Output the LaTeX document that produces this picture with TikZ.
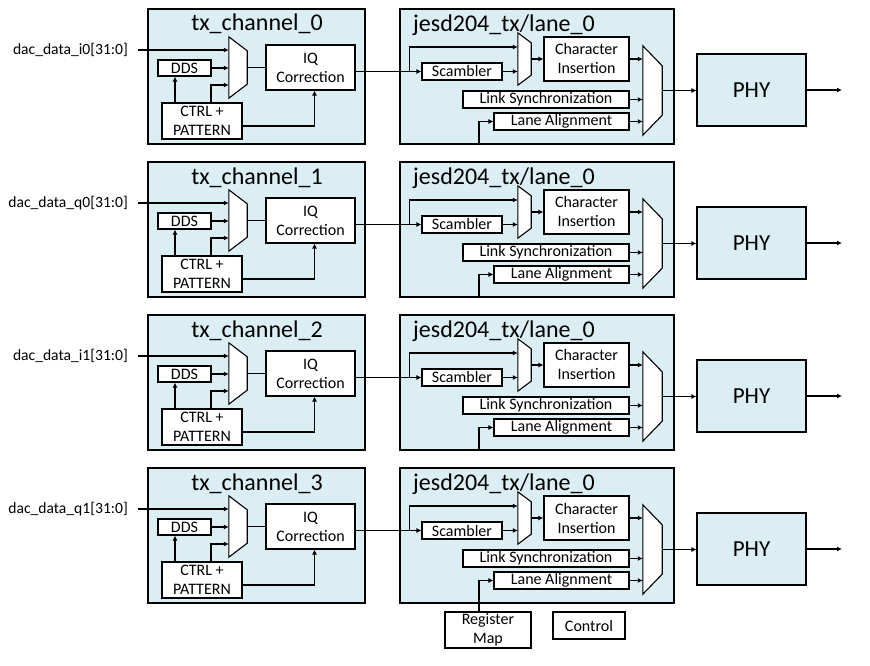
\documentclass[tikz,border=0pt]{standalone}
\usepackage{fontspec}
\setmainfont{Carlito}
\usetikzlibrary{arrows.meta,calc}
\definecolor{lb}{HTML}{DAEEF3}
\tikzset{
 blk/.style={draw, fill=white, line width=1.1pt, inner sep=0pt, align=center, font=\fontsize{16}{19}\selectfont},
 grp/.style={draw, fill=lb, line width=1.1pt, inner sep=0pt},
 muxbox/.style={inner sep=0pt},
 arr/.style={-{Latex[length=5pt,width=5pt]}, line width=1.1pt},
 wire/.style={line width=1.1pt},
 ttl/.style={font=\fontsize{24}{28}\selectfont, inner sep=0pt},
 lbl/.style={font=\fontsize{15.6}{19}\selectfont, inner sep=0pt},
}
\newcommand\muxshape[2]{\filldraw[wire, fill=white] (#1.north west) -- ([yshift=-#2pt]#1.north east) -- ([yshift=#2pt]#1.south east) -- (#1.south west) -- cycle;}
\begin{document}
\begin{tikzpicture}[x=1pt,y=-1pt]
\useasboundingbox (0,0) rectangle (870,666);
\foreach \i/\lab in {0/i0,1/q0,2/i1,3/q1}{
 \begin{scope}[shift={(0,153*\i)}]
 % tx_channel
 \node[grp, minimum width=217, minimum height=135] (tx\i) at (256.5,76.5) {};
 \node[ttl, anchor=base] (txt\i) at (257,31) {tx\_channel\_\i};
 \node[lbl, anchor=east, inner xsep=10pt] (in\i) at (138,50) {dac\_data\_\lab[31:0]};
 \node[muxbox, minimum width=18, minimum height=61] (ma\i) at (238,67.5) {};
 \node[blk, minimum width=53, minimum height=16] (dds\i) at (184.5,68) {DDS};
 \node[blk, minimum width=80, minimum height=36] (ctrl\i) at (202,121) {CTRL +\\PATTERN};
 \node[blk, minimum width=89, minimum height=45] (iq\i) at (310.5,67.5) {IQ\\Correction};
 % jesd
 \node[grp, minimum width=274, minimum height=135] (js\i) at (537,76.5) {};
 \node[ttl, anchor=base west] (jst\i) at (413,31.5) {jesd204\_tx/lane\_0};
 \node[blk, minimum width=80, minimum height=17] (scr\i) at (462,71.5) {Scambler};
 \node[muxbox, minimum width=13, minimum height=52] (mb\i) at (524.5,59) {};
 \node[blk, minimum width=85, minimum height=44] (ci\i) at (586.5,59) {Character\\Insertion};
 \node[blk, minimum width=166, minimum height=17] (ls\i) at (546,99.5) {Link Synchronization};
 \node[blk, minimum width=135, minimum height=17] (la\i) at (561.5,121.5) {Lane Alignment};
 \node[muxbox, minimum width=19, minimum height=89] (mc\i) at (652.5,90.5) {};
 \node[blk, fill=lb, minimum width=109, minimum height=72, font=\fontsize{23}{27}\selectfont] (phy\i) at (751.5,90) {PHY};
 \coordinate (out\i) at (842,90);
 \muxshape{ma\i}{14}
 \muxshape{mb\i}{10}
 \muxshape{mc\i}{20}
 % connectors
 \draw[arr] (in\i.east) -- (in\i.east -| ma\i.west);
 \draw[arr] (dds\i.east) -- (dds\i.east -| ma\i.west);
 \draw[arr] ([xshift=9pt]ctrl\i.north) |- ([yshift=-17.5pt]ma\i.west);
 \draw[arr] ([xshift=-27pt]ctrl\i.north) -- ([xshift=-27pt]ctrl\i.north |- dds\i.south);
 \draw[wire] (ma\i.east) -- (iq\i.west);
 \draw[arr] ([yshift=-5pt]ctrl\i.east) -| ([xshift=4pt]iq\i.south);
 \draw[arr] ([yshift=-4pt]iq\i.east) -- (scr\i.west);
 \coordinate (br\i) at ([xshift=-12pt]scr\i.west);
 \draw[arr] (br\i) |- ([yshift=12pt]mb\i.west);
 \draw[arr] (scr\i.east) -- (scr\i.east -| mb\i.west);
 \draw[arr] (mb\i.east) -- (ci\i.west);
 \draw[arr] (ci\i.east) -- (ci\i.east -| mc\i.west);
 \draw[arr] (ls\i.east) -- (ls\i.east -| mc\i.west);
 \draw[arr] (la\i.east) -- (la\i.east -| mc\i.west);
 \draw[arr] (mc\i.east) -- (mc\i.east -| phy\i.west);
 \draw[arr] (phy\i.east) -- (out\i);
 \ifnum\i<3
  \coordinate (lain\i) at ([xshift=-58pt]js\i.south);
  \draw[arr] (lain\i) |- (la\i.west);
 \fi
 \end{scope}
}
\node[blk, minimum width=86, minimum height=36] (reg) at (488,630) {Register\\Map};
\node[blk, minimum width=72, minimum height=27] (ctl) at (589,625.5) {Control};
\draw[arr] ([xshift=-9pt]reg.north) |- (la3.west);
\end{tikzpicture}
\end{document}
